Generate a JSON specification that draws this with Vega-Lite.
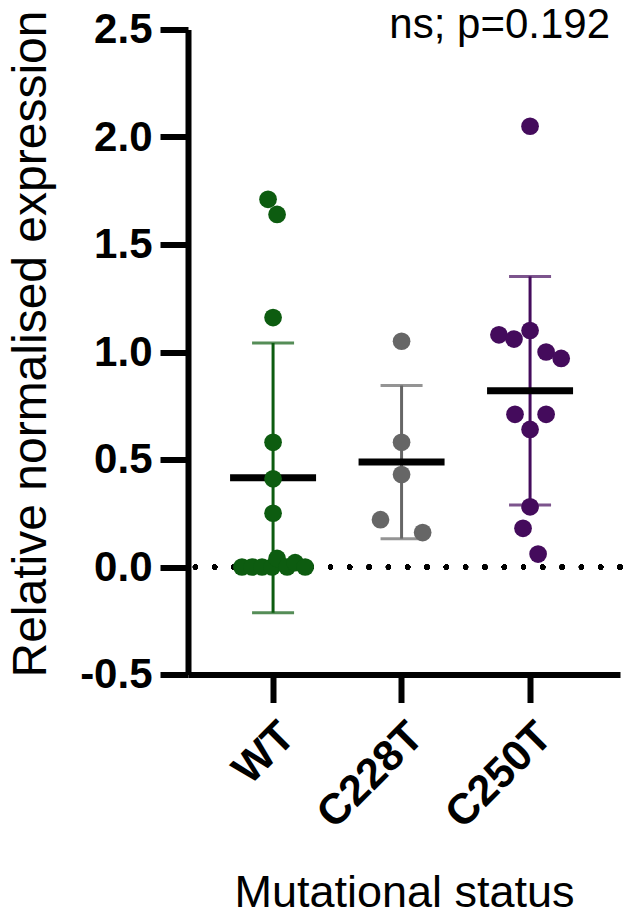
{
  "$schema": "https://vega.github.io/schema/vega-lite/v6.json",
  "width": 432,
  "height": 645,
  "autosize": {"type": "none"},
  "padding": {"left": 188, "top": 29.5, "right": 5, "bottom": 246.5},
  "background": "white",
  "config": {
    "view": {"stroke": null},
    "font": "Liberation Sans"
  },
  "data": {
    "values": [
      {"group": "WT", "value": 1.71, "jitter": -5},
      {"group": "WT", "value": 1.64, "jitter": 4},
      {"group": "WT", "value": 1.16, "jitter": 0},
      {"group": "WT", "value": 0.58, "jitter": 0},
      {"group": "WT", "value": 0.41, "jitter": 0},
      {"group": "WT", "value": 0.25, "jitter": 0},
      {"group": "WT", "value": 0.0, "jitter": -31},
      {"group": "WT", "value": 0.0, "jitter": -21},
      {"group": "WT", "value": 0.0, "jitter": -11},
      {"group": "WT", "value": 0.0, "jitter": -1},
      {"group": "WT", "value": 0.04, "jitter": 4},
      {"group": "WT", "value": 0.0, "jitter": 14},
      {"group": "WT", "value": 0.02, "jitter": 22},
      {"group": "WT", "value": 0.0, "jitter": 32},
      {"group": "C228T", "value": 1.05, "jitter": 0},
      {"group": "C228T", "value": 0.58, "jitter": 0},
      {"group": "C228T", "value": 0.43, "jitter": 0},
      {"group": "C228T", "value": 0.22, "jitter": -21},
      {"group": "C228T", "value": 0.16, "jitter": 21},
      {"group": "C250T", "value": 2.05, "jitter": 0},
      {"group": "C250T", "value": 1.10, "jitter": 0},
      {"group": "C250T", "value": 1.08, "jitter": -31},
      {"group": "C250T", "value": 1.06, "jitter": -16},
      {"group": "C250T", "value": 1.00, "jitter": 16},
      {"group": "C250T", "value": 0.97, "jitter": 31},
      {"group": "C250T", "value": 0.71, "jitter": -15},
      {"group": "C250T", "value": 0.71, "jitter": 16},
      {"group": "C250T", "value": 0.64, "jitter": 0},
      {"group": "C250T", "value": 0.28, "jitter": 0},
      {"group": "C250T", "value": 0.18, "jitter": -7},
      {"group": "C250T", "value": 0.06, "jitter": 8}
    ]
  },
  "layer": [
    {
      "mark": {"type": "rule", "strokeDash": [0, 19.3], "strokeCap": "round", "strokeWidth": 5, "color": "black"},
      "encoding": {"y": {"datum": 0, "type": "quantitative", "title": "Relative normalised expression"}}
    },
    {
      "mark": {
        "type": "errorbar",
        "extent": "stdev",
        "ticks": {"size": 42, "thickness": 3},
        "rule": {"strokeWidth": 3}
      },
      "encoding": {
        "x": {"field": "group", "type": "nominal", "sort": ["WT", "C228T", "C250T"], "title": "Mutational status"},
        "y": {"field": "value", "type": "quantitative", "title": "Relative normalised expression"},
        "color": {
          "field": "group",
          "type": "nominal",
          "scale": {"domain": ["WT", "C228T", "C250T"], "range": ["#0d5c10", "#666666", "#440b5c"]},
          "legend": null
        }
      }
    },
    {
      "mark": {"type": "tick", "size": 86, "thickness": 7, "color": "black", "opacity": 1},
      "encoding": {
        "x": {"field": "group", "type": "nominal", "sort": ["WT", "C228T", "C250T"], "title": "Mutational status"},
        "y": {"aggregate": "mean", "field": "value", "type": "quantitative", "title": "Relative normalised expression"}
      }
    },
    {
      "mark": {"type": "circle", "size": 314, "opacity": 1},
      "encoding": {
        "x": {
          "field": "group",
          "type": "nominal",
          "sort": ["WT", "C228T", "C250T"],
          "title": "Mutational status",
          "scale": {"type": "band", "domain": ["WT", "C228T", "C250T"], "paddingInner": 0.5, "paddingOuter": 0.431, "align": 0.478},
          "axis": {
            "titleFont": "Liberation Sans",
            "titleFontSize": 45,
            "titleFontWeight": "normal",
            "titleColor": "black",
            "titlePadding": 34,
            "labelFont": "Liberation Sans",
            "labelFontSize": 43,
            "labelFontWeight": "bold",
            "labelColor": "black",
            "labelAngle": -45,
            "labelAlign": "right",
            "labelBaseline": "top",
            "labelPadding": 12,
            "domainColor": "black",
            "domainWidth": 6,
            "tickColor": "black",
            "tickWidth": 6,
            "tickSize": 28
          }
        },
        "y": {
          "field": "value",
          "type": "quantitative",
          "title": "Relative normalised expression",
          "scale": {"domain": [-0.5, 2.5], "nice": false, "zero": false},
          "axis": {
            "titleFont": "Liberation Sans",
            "titleFontSize": 48,
            "titleFontWeight": "normal",
            "titleColor": "black",
            "titlePadding": 24,
            "titleY": 314,
            "values": [-0.5, 0, 0.5, 1, 1.5, 2, 2.5],
            "format": ".1f",
            "labelExpr": "replace(datum.label, '\u2212', '-')",
            "labelFont": "Liberation Sans",
            "labelFontSize": 42,
            "labelFontWeight": "bold",
            "labelColor": "black",
            "labelPadding": 8,
            "domainColor": "black",
            "domainWidth": 6,
            "tickColor": "black",
            "tickWidth": 6,
            "tickSize": 28,
            "grid": false
          }
        },
        "xOffset": {"field": "jitter", "type": "quantitative", "scale": {"domain": [-32, 32]}},
        "color": {"field": "group", "type": "nominal", "legend": null}
      }
    },
    {
      "data": {"values": [{"label": "ns; p=0.192", "group": "C250T", "value": 2.5}]},
      "mark": {"type": "text", "align": "right", "baseline": "alphabetic", "dx": 80, "dy": 8, "fontSize": 42, "font": "Liberation Sans", "color": "black"},
      "encoding": {
        "x": {"field": "group", "type": "nominal", "sort": ["WT", "C228T", "C250T"], "title": "Mutational status"},
        "y": {"field": "value", "type": "quantitative", "title": "Relative normalised expression"},
        "text": {"field": "label"}
      }
    }
  ]
}
